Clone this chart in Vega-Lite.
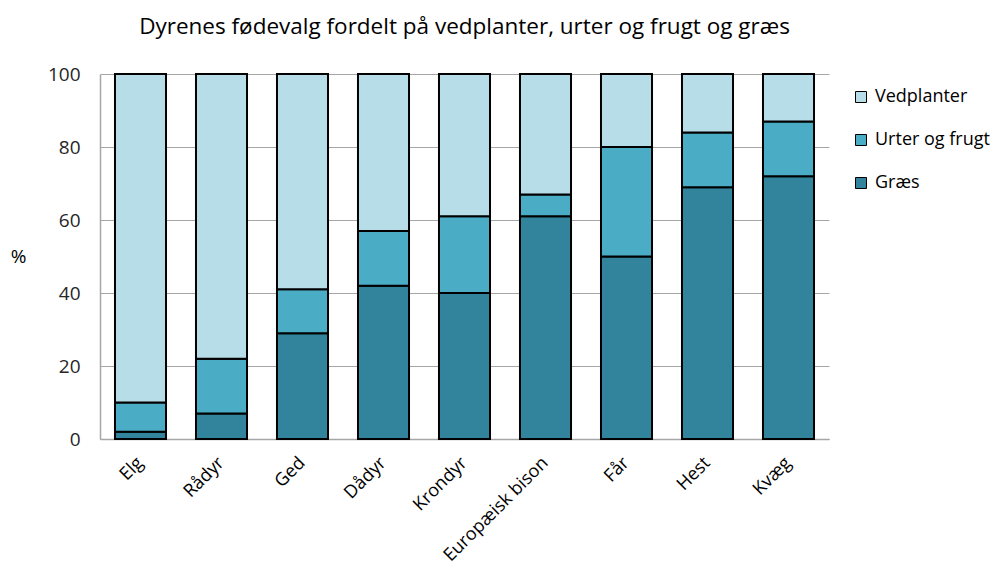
{
  "$schema": "https://vega.github.io/schema/vega-lite/v6.json",
  "width": 729,
  "height": 365,
  "autosize": "none",
  "padding": {"left": 100, "top": 74, "right": 168, "bottom": 133},
  "background": "white",
  "title": {
    "text": "Dyrenes fødevalg fordelt på vedplanter, urter og frugt og græs",
    "anchor": "middle",
    "font": "Open Sans",
    "fontSize": 22.5,
    "fontWeight": "normal",
    "color": "#000000",
    "offset": 27
  },
  "data": {
    "values": [
      {"dyr": "Elg", "type": "Græs", "pct": 2},
      {"dyr": "Elg", "type": "Urter og frugt", "pct": 8},
      {"dyr": "Elg", "type": "Vedplanter", "pct": 90},
      {"dyr": "Rådyr", "type": "Græs", "pct": 7},
      {"dyr": "Rådyr", "type": "Urter og frugt", "pct": 15},
      {"dyr": "Rådyr", "type": "Vedplanter", "pct": 78},
      {"dyr": "Ged", "type": "Græs", "pct": 29},
      {"dyr": "Ged", "type": "Urter og frugt", "pct": 12},
      {"dyr": "Ged", "type": "Vedplanter", "pct": 59},
      {"dyr": "Dådyr", "type": "Græs", "pct": 42},
      {"dyr": "Dådyr", "type": "Urter og frugt", "pct": 15},
      {"dyr": "Dådyr", "type": "Vedplanter", "pct": 43},
      {"dyr": "Krondyr", "type": "Græs", "pct": 40},
      {"dyr": "Krondyr", "type": "Urter og frugt", "pct": 21},
      {"dyr": "Krondyr", "type": "Vedplanter", "pct": 39},
      {"dyr": "Europæisk bison", "type": "Græs", "pct": 61},
      {"dyr": "Europæisk bison", "type": "Urter og frugt", "pct": 6},
      {"dyr": "Europæisk bison", "type": "Vedplanter", "pct": 33},
      {"dyr": "Får", "type": "Græs", "pct": 50},
      {"dyr": "Får", "type": "Urter og frugt", "pct": 30},
      {"dyr": "Får", "type": "Vedplanter", "pct": 20},
      {"dyr": "Hest", "type": "Græs", "pct": 69},
      {"dyr": "Hest", "type": "Urter og frugt", "pct": 15},
      {"dyr": "Hest", "type": "Vedplanter", "pct": 16},
      {"dyr": "Kvæg", "type": "Græs", "pct": 72},
      {"dyr": "Kvæg", "type": "Urter og frugt", "pct": 15},
      {"dyr": "Kvæg", "type": "Vedplanter", "pct": 13}
    ]
  },
  "config": {
    "view": {"stroke": null},
    "font": "Open Sans"
  },
  "mark": {"type": "bar", "stroke": "#000000", "strokeWidth": 2},
  "encoding": {
    "x": {
      "field": "dyr",
      "type": "nominal",
      "sort": null,
      "scale": {"paddingInner": 0.37, "paddingOuter": 0.185},
      "axis": {
        "title": null,
        "labelAngle": -45,
        "labelAlign": "right",
        "labelBaseline": "middle",
        "labelFont": "Open Sans",
        "labelFontSize": 18,
        "labelColor": "#000000",
        "labelPadding": 21,
        "labelLimit": 300,
        "ticks": false,
        "domainColor": "#A6A6A6",
        "domainWidth": 1.5
      }
    },
    "y": {
      "field": "pct",
      "type": "quantitative",
      "stack": "zero",
      "scale": {"domain": [0, 100], "nice": false},
      "axis": {
        "title": "%",
        "titleAngle": 0,
        "titleFont": "Open Sans",
        "titleFontSize": 19,
        "titleFontWeight": "normal",
        "titleColor": "#000000",
        "titleX": -82,
        "titleY": 192,
        "values": [0, 20, 40, 60, 80, 100],
        "labelFont": "Open Sans",
        "labelFontSize": 19,
        "labelColor": "#262626",
        "labelPadding": 20,
        "ticks": false,
        "grid": true,
        "gridColor": "#A6A6A6",
        "gridWidth": 1.2,
        "domainColor": "#A6A6A6",
        "domainWidth": 1.5
      }
    },
    "color": {
      "field": "type",
      "type": "nominal",
      "scale": {
        "domain": ["Vedplanter", "Urter og frugt", "Græs"],
        "range": ["#B7DDE8", "#4BACC6", "#31849B"]
      },
      "legend": {
        "title": null,
        "orient": "none",
        "legendX": 752,
        "legendY": 14,
        "labelFont": "Open Sans",
        "labelFontSize": 18,
        "labelColor": "#000000",
        "symbolType": "square",
        "symbolSize": 121,
        "symbolStrokeColor": "#000000",
        "symbolStrokeWidth": 1,
        "rowPadding": 25,
        "labelOffset": 5,
        "padding": 0
      }
    },
    "order": {"field": "type", "sort": "ascending"}
  }
}
